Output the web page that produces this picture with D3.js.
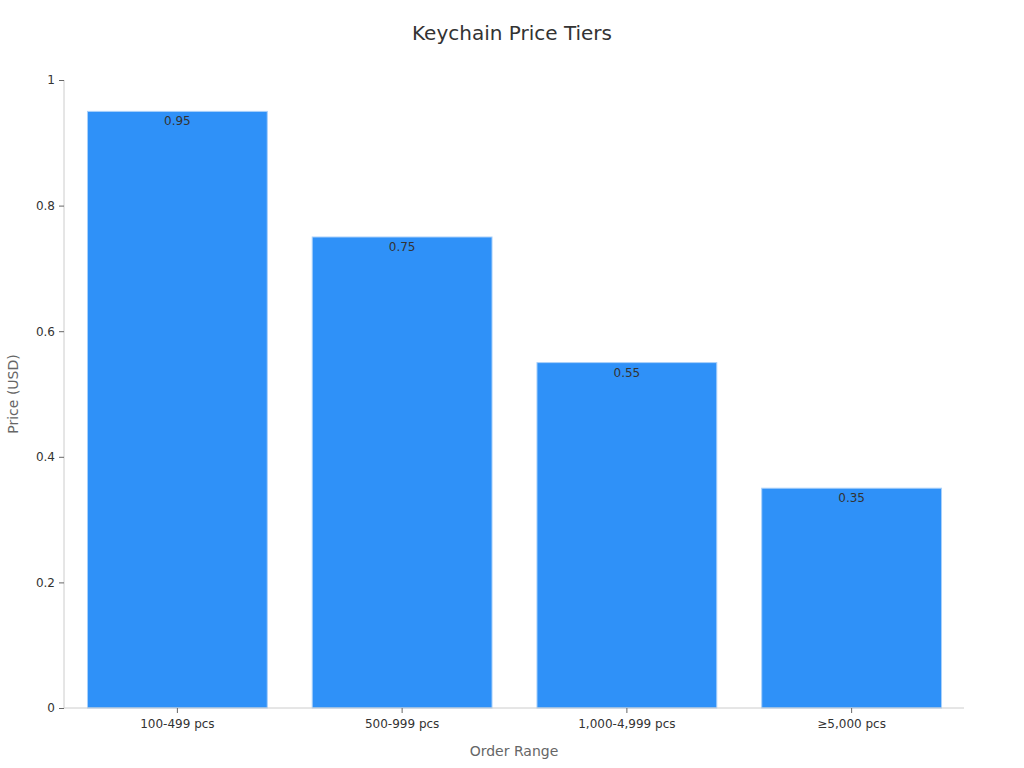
<!DOCTYPE html>
<html><head><meta charset="utf-8">
<script src="https://cdn.jsdelivr.net/npm/d3@7"></script>
<style>body{margin:0;background:#fff;}svg{display:block;font-family:"DejaVu Sans",sans-serif;}</style>
</head><body>
<svg id="c" width="1024" height="768"></svg>
<script>
const categories = ["100-499 pcs", "500-999 pcs", "1,000-4,999 pcs", "≥5,000 pcs"];
const prices = [0.95, 0.75, 0.55, 0.35];
const yTicks = [0, 0.2, 0.4, 0.6, 0.8, 1];

const svg = d3.select("#c");
const m = {l: 64, r: 61, t: 80, b: 60};
const W = 1024, H = 768;
const x = d3.scaleBand().domain(categories).range([m.l + 1, W - m.r + 1]).paddingInner(0.2).paddingOuter(0.1);
const y = d3.scaleLinear().domain([0, 1]).range([H - m.b, m.t]);

svg.append("text").attr("x", 512).attr("y", 40).attr("text-anchor", "middle")
  .attr("font-size", 20).attr("fill", "#333").text("Keychain Price Tiers");

svg.selectAll("rect.bar").data(prices).enter().append("rect")
  .attr("x", (d, i) => x(categories[i])).attr("width", x.bandwidth())
  .attr("y", d => y(d)).attr("height", d => y(0) - y(d))
  .attr("fill", "#2f91f8").attr("stroke", "#a9d0fa").attr("stroke-width", 1);

svg.selectAll("text.val").data(prices).enter().append("text")
  .attr("x", (d, i) => x(categories[i]) + x.bandwidth() / 2)
  .attr("y", d => y(d) + 14).attr("text-anchor", "middle")
  .attr("font-size", 12).attr("fill", "#333").text(d => d);

const ya = svg.append("g").attr("transform", `translate(${m.l},0)`)
  .call(d3.axisLeft(y).tickValues(yTicks).tickFormat(d3.format("~g")).tickSize(5).tickPadding(4));
ya.select(".domain").attr("stroke", "#ccc").attr("d", `M0,${y(0)}V${y(1)}`);
ya.selectAll(".tick line").attr("stroke", "#666");
ya.selectAll(".tick text").attr("font-size", 12).attr("fill", "#333").attr("font-family", "DejaVu Sans");

const xa = svg.append("g").attr("transform", `translate(0,${y(0)})`)
  .call(d3.axisBottom(x).tickSize(5).tickPadding(6));
xa.select(".domain").attr("stroke", "#ccc").attr("d", `M${m.l},0H${W - m.r + 1}`);
xa.selectAll(".tick line").attr("stroke", "#666");
xa.selectAll(".tick text").attr("font-size", 12).attr("fill", "#333").attr("font-family", "DejaVu Sans");

svg.append("text").attr("x", 514).attr("y", 756).attr("text-anchor", "middle")
  .attr("font-size", 14).attr("fill", "#666").text("Order Range");
svg.append("text").attr("transform", `translate(18,${(m.t + H - m.b) / 2}) rotate(-90)`)
  .attr("text-anchor", "middle").attr("font-size", 14).attr("fill", "#666").text("Price (USD)");
</script>
</body></html>
